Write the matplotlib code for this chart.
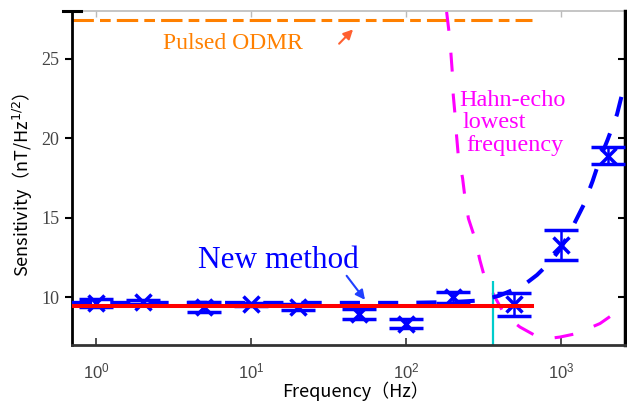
import matplotlib.pyplot as plt
from matplotlib.ticker import NullLocator, FixedLocator

# measured points (new method) with error bars
freq = [1, 2, 5, 10, 20, 50, 100, 200, 500, 1000, 2000]
sens = [9.65, 9.7, 9.4, 9.55, 9.4, 8.95, 8.35, 10.0, 9.55, 13.3, 18.9]
sens_err = [0.25, 0.15, 0.3, 0.12, 0.2, 0.3, 0.27, 0.35, 0.7, 0.95, 0.55]

# blue dashed fit curve
fit_freq = [0.7, 100, 200, 300, 400, 500, 600, 700, 850, 1000, 1200, 1400,
            1600, 1800, 2000, 2300, 2590]
fit_sens = [9.65, 9.65, 9.7, 9.8, 10.1, 10.5, 10.9, 11.4, 12.2, 13.1, 14.5,
            15.8, 17.3, 18.8, 19.9, 21.5, 23.5]

# Hahn-echo lowest frequency curve
hahn_freq = [183, 189, 195, 199, 202, 207, 212, 217, 232, 240, 253, 279, 300,
             323, 385, 435, 544, 711, 850, 986, 1263, 1786, 2287, 2590]
hahn_sens = [27.94, 26.79, 25.35, 24.17, 22.7, 21.55, 20.19, 19.04, 17.48,
             16.31, 14.95, 13.69, 12.33, 11.19, 9.81, 8.87, 8.13, 7.5, 7.42,
             7.5, 7.72, 8.35, 9.08, 9.4]

odmr_freq = [0.7, 650]
odmr_level = 27.45
mean_freq = [0.7, 650]
mean_level = 9.45
hahn_min_freq = 366
hahn_min_top = 11.0

xticks = [1, 10, 100, 1000]
yticks = [10, 15, 20, 25]

fig = plt.figure(figsize=(6.27, 4.08), dpi=100)
ax = fig.add_axes([0.1148, 0.1544, 0.882, 0.8186])
ax.set_xscale('log')
ax.set_xlim(0.7, 2590)
ax.set_ylim(7, 28)

ax.plot(odmr_freq, [odmr_level, odmr_level], color='#FF8000', lw=2.2,
        dashes=[7, 2, 3.5, 2], zorder=2)
ax.plot(hahn_freq, hahn_sens, color='#FF00FF', lw=2.2, dashes=[6.2, 7.2],
        zorder=2)
ax.vlines(hahn_min_freq, 7, hahn_min_top, color='#00CCCC', lw=1.6, zorder=2)
ax.plot(fit_freq, fit_sens, color='#0000FF', lw=2.9, dashes=[5, 4.5], zorder=3)
ax.errorbar(freq, sens, yerr=sens_err, fmt='x', color='#0000FF', ms=11,
            mew=2.5, capsize=12.5, capthick=2.5, elinewidth=1.8, zorder=4)
ax.plot(mean_freq, [mean_level, mean_level], color='#FF0000', lw=2.9,
        zorder=5)

# annotations
ax.text(2.7, 25.95, 'Pulsed ODMR', color='#FF8000', fontsize=17,
        family='Liberation Serif', va='center', ha='left')
ax.annotate('', xy=(46.9, 26.97), xytext=(36, 25.82),
            arrowprops=dict(arrowstyle='-|>', color='#FF6030', lw=1.5,
                            mutation_scale=14))
ax.text(4.55, 12.33, 'New method', color='#0000FF', fontsize=22.5,
        family='Liberation Serif', va='center', ha='left')
ax.annotate('', xy=(55.8, 9.7), xytext=(40.4, 11.49),
            arrowprops=dict(arrowstyle='-|>', color='#2040FF', lw=1.5,
                            mutation_scale=14))
hahn_lines = [('Hahn-echo', 220, 22.39), ('lowest', 233, 21.0),
              ('frequency', 246, 19.56)]
for txt, tx, ty in hahn_lines:
    ax.text(tx, ty, txt, color='#FF00FF', fontsize=17.5,
            family='Liberation Serif', va='center', ha='left')

# ticks and spines
ax.xaxis.set_major_locator(FixedLocator(xticks))
ax.xaxis.set_minor_locator(NullLocator())
ax.set_yticks(yticks)
ax.tick_params(axis='x', direction='in', length=5, width=1.2, color='#333333',
               pad=12, labelsize=12, labelcolor='#444444',
               labelfontfamily='Liberation Sans')
ax.tick_params(axis='y', direction='out', length=5, width=1.5, color='black',
               pad=4, labelsize=13, labelcolor='#444444',
               labelfontfamily='Liberation Serif')

ax.spines['left'].set_linewidth(2)
ax.spines['bottom'].set_linewidth(2)
ax.spines['bottom'].set_color('#333333')
ax.spines['right'].set_visible(False)
ax.spines['top'].set_visible(False)

top = ax.secondary_xaxis('top')
top.xaxis.set_major_locator(FixedLocator(xticks))
top.xaxis.set_minor_locator(NullLocator())
top.tick_params(direction='in', length=4, width=1, color='#BBBBBB',
                labeltop=False)
top.spines['top'].set_color('#BBBBBB')
top.spines['top'].set_linewidth(1.2)

right = ax.secondary_yaxis('right')
right.set_yticks(yticks)
right.tick_params(direction='in', length=5, width=1.5, color='black',
                  labelright=False)
right.spines['right'].set_linewidth(2.5)

ax.plot([-0.016, 0.016], [1, 1], transform=ax.transAxes, color='black',
        lw=2.2, clip_on=False, zorder=6)

ax.set_xlabel('Frequency（Hz）', family='Noto Sans CJK JP', fontsize=13)
ax.set_ylabel('Sensitivity（nT/Hz$^{1/2}$）', family='Noto Sans CJK JP',
              fontsize=13)
ax.xaxis.set_label_coords(0.512, -0.11)
ax.yaxis.set_label_coords(-0.067, 0.479)

fig.savefig('out.png', dpi=100)
